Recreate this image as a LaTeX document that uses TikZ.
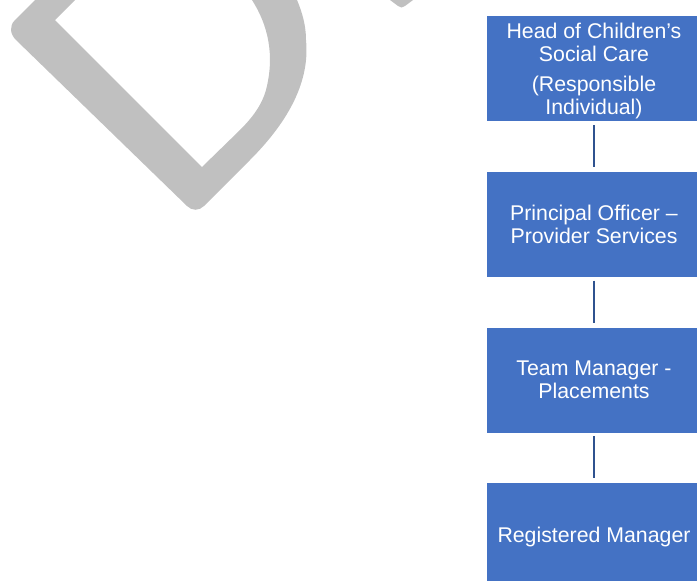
\documentclass[tikz,border=0pt]{standalone}
\usepackage{fontspec}
\setmainfont{Liberation Sans}
\definecolor{boxblue}{HTML}{4472C4}
\definecolor{linkblue}{HTML}{2F528F}
\definecolor{wmgrey}{HTML}{C0C0C0}
\begin{document}
\begin{tikzpicture}[x=1pt,y=-1pt,
  orgbox/.style={rectangle, fill=boxblue, draw=white, line width=0.75pt,
    minimum width=216pt, minimum height=106pt, inner sep=2pt, text depth=0pt,
    align=center, text=white, font=\fontsize{21.3pt}{22.7pt}\selectfont},
  orglink/.style={draw=linkblue, line width=2.4pt, shorten <=3pt, shorten >=3.5pt},
  watermark/.style={fill=wmgrey, draw=none}]
\useasboundingbox (0,0) rectangle (697,581);
\clip (0,0) rectangle (697,581);
% watermark fragment (letter D of a diagonal DRAFT)
\path[watermark] (35,0) -- (15,20) .. controls (9,26) and (10,34) .. (16,40)
  -- (187,206) .. controls (192,211) and (199,211) .. (204,206)
  -- (250,160) .. controls (290,120) and (310,80) .. (306,40)
  .. controls (306,25) and (302,12) .. (297,0)
  -- (252,0) .. controls (268,25) and (275,55) .. (266,90)
  .. controls (262,105) and (252,118) .. (240,130)
  -- (202,167) -- (55,20) -- (75,0) -- cycle;
\path[watermark] (390,0) -- (398,6) .. controls (400,8) and (403,8) .. (405,6) -- (413,0) -- cycle;
% boxes
\node[orgbox] (b1) at (594,68.75) {Head of Children’s\\Social Care\\[7.5pt](Responsible\\Individual)};
\node[orgbox] (b2) at (594,224.25) {Principal Officer –\\Provider Services};
\node[orgbox] (b3) at (594,380) {Team Manager -\\Placements};
\node[orgbox] (b4) at (594,535) {Registered Manager};
% connectors
\draw[orglink] (b1.south) -- (b2.north);
\draw[orglink] (b2.south) -- (b3.north);
\draw[orglink] (b3.south) -- (b4.north);
\end{tikzpicture}
\end{document}
